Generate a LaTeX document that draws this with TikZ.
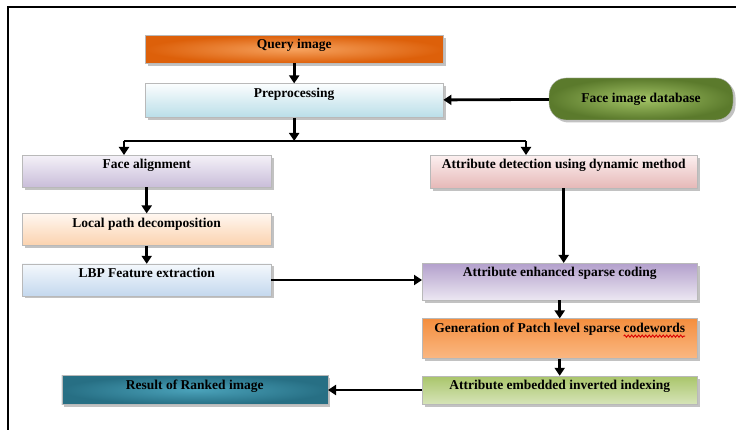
\documentclass[tikz,border=0pt]{standalone}
\usepackage{fontspec}
\setmainfont{Liberation Serif}
\usepackage{tikz}
\usetikzlibrary{arrows.meta, positioning, shadows, decorations.pathmorphing}
\definecolor{queryout}{HTML}{DD600A}
\definecolor{queryin}{HTML}{F6A25E}
\definecolor{pretop}{HTML}{FBFDFE}
\definecolor{prebot}{HTML}{B9DEE8}
\definecolor{dbout}{HTML}{5B7A2C}
\definecolor{dbin}{HTML}{A3C466}
\definecolor{fatop}{HTML}{F4F1F8}
\definecolor{fabot}{HTML}{C9BDD9}
\definecolor{adtop}{HTML}{FCF0F0}
\definecolor{adbot}{HTML}{E6B8B7}
\definecolor{lpdtop}{HTML}{FFF7F0}
\definecolor{lpdbot}{HTML}{FBD2AE}
\definecolor{lbptop}{HTML}{F4F8FC}
\definecolor{lbpbot}{HTML}{C4D8EE}
\definecolor{aesctop}{HTML}{B3A0CC}
\definecolor{aescbot}{HTML}{ECE7F2}
\definecolor{gentop}{HTML}{F48E3E}
\definecolor{genbot}{HTML}{FAB883}
\definecolor{embtop}{HTML}{A9C56A}
\definecolor{embbot}{HTML}{D6E4B8}
\definecolor{resout}{HTML}{276F84}
\definecolor{resin}{HTML}{4AA2BA}
\newcommand\stagefont{\fontsize{13.5}{15}\selectfont\bfseries}
\newlength\genw
\newlength\wordw

\begin{document}
\settowidth\genw{\stagefont Generation of Patch level sparse codewords}%
\settowidth\wordw{\stagefont codewords}%
\begin{tikzpicture}[x=1pt, y=-1pt,
  stage/.style={rectangle, draw=gray!55, line width=0.4pt, inner sep=0pt, text height=13.5pt,
    font=\stagefont,
    drop shadow={shadow xshift=2.5pt, shadow yshift=-2.5pt, fill=black!40, opacity=0.6}},
  flow/.style={-{Triangle[length=8pt, width=10pt]}, line width=2.8pt}]

  \useasboundingbox (0,0) rectangle (736,430);
  \draw[line width=1.5pt] (8,430) -- (8,7) -- (736,7);

  % Input side
  \node[stage, anchor=north west, minimum width=298pt, text depth=14.5pt, inner color=queryin, outer color=queryout] (query) at (145,35) {Query image};
  \node[stage, minimum width=298pt, text depth=20.5pt, top color=pretop, bottom color=prebot, below=20pt of query] (pre) {Preprocessing};
  \node[stage, rounded corners=17pt, minimum width=184pt, minimum height=42pt, text height=, text depth=, inner color=dbin, outer color=dbout] (db) at (641,99) {Face image database};

  % Left branch
  \node[stage, anchor=north west, minimum width=249pt, text depth=18.5pt, top color=fatop, bottom color=fabot] (fa) at (22,155) {Face alignment};
  \node[stage, minimum width=249pt, text depth=18.5pt, top color=lpdtop, bottom color=lpdbot, below=26pt of fa] (lpd) {Local path decomposition};
  \node[stage, minimum width=249pt, text depth=18.5pt, top color=lbptop, bottom color=lbpbot, below=18pt of lpd] (lbp) {LBP Feature extraction};

  % Right branch
  \node[stage, anchor=north west, minimum width=267pt, text depth=19.5pt, top color=adtop, bottom color=adbot] (ad) at (430,155) {Attribute detection using dynamic method};
  \node[stage, anchor=north west, minimum width=275pt, text depth=23.5pt, top color=aesctop, bottom color=aescbot] (aesc) at (422,263) {Attribute enhanced sparse coding};
  \node[stage, minimum width=275pt, text depth=26.5pt, top color=gentop, bottom color=genbot, below=18pt of aesc] (gen) {Generation of Patch level sparse codewords};
  \node[stage, minimum width=275pt, text depth=14.5pt, top color=embtop, bottom color=embbot, below=17pt of gen] (emb) {Attribute embedded inverted indexing};
  \node[stage, minimum width=266pt, text depth=15.5pt, inner color=resin, outer color=resout, left=94pt of emb] (res) {Result of Ranked image};

  % spell-check wave under the last word
  \draw[red!85!black, line width=0.9pt, decorate, decoration={snake, amplitude=1.1pt, segment length=3.5pt}]
    ([shift={(0.5\genw-\wordw,-4pt)}]gen.base) -- ([shift={(0.5\genw,-4pt)}]gen.base);

  % Connectors
  \coordinate (barL) at (124,141);
  \coordinate (barR) at (526,141);
  \draw[flow] (query) -- (pre);
  \draw[flow] (db) -- (pre);
  \draw[flow] (pre.south) -- (pre.south |- barL);
  \draw[line width=2.8pt] (barL) -- (barR);
  \draw[flow] (barL) -- (barL |- fa.north);
  \draw[flow] (barR) -- (barR |- ad.north);
  \draw[flow] (fa) -- (lpd);
  \draw[flow] (lpd) -- (lbp);
  \draw[flow] (lbp.east) -- (lbp.east -| aesc.west);
  \draw[flow] (ad.south) -- (ad.south |- aesc.north);
  \draw[flow] (aesc) -- (gen);
  \draw[flow] (gen) -- (emb);
  \draw[flow] (emb) -- (res);

\end{tikzpicture}
\end{document}
